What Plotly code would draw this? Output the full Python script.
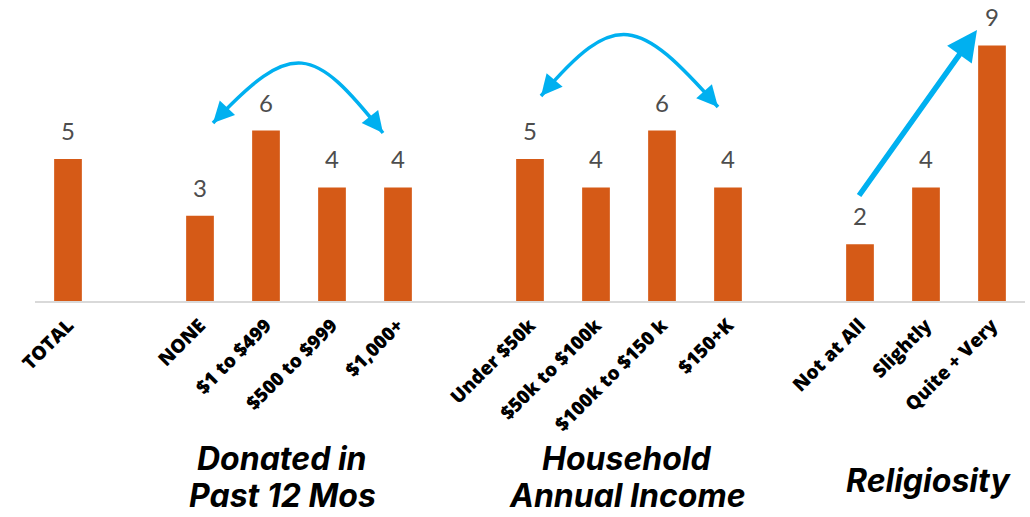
import plotly.graph_objects as go

# ---- data ----
categories = ["TOTAL", "", "NONE", "$1 to $499", "$500 to $999", "$1,000+", " ",
              "Under $50k", "$50k to $100k", "$100k to $150 k", "$150+K", "  ",
              "Not at All", "Slightly", "Quite + Very"]
values = [5, None, 3, 6, 4, 4, None, 5, 4, 6, 4, None, 2, 4, 9]
group_title_lines = [["Donated in", "Past 12 Mos"], ["Household", "Annual Income"], ["Religiosity"]]

BAR = "#D55A17"
ARROW = "#00B0F0"
FONT = "Lato"
TICKFONT = "Open Sans"
TITLEFONT = "Inter"

slots = list(range(len(categories)))
bx = [s for s, v in zip(slots, values) if v is not None]
bv = [v for v in values if v is not None]

fig = go.Figure()
fig.add_trace(go.Bar(x=bx, y=bv, width=0.42, marker=dict(color=BAR, line=dict(width=0)),
                     hoverinfo="skip"))

# value labels
for x, v in zip(bx, bv):
    fig.add_annotation(x=x, y=v, text=str(v), showarrow=False, yanchor="bottom", yshift=12,
                       font=dict(family=FONT, size=24, color="#4d4d4d"))

# ---- pixel helpers for decorations ----
PL, PR, PT, PB, W, H = 35, 5, 17, 216, 1030, 517
YMAX = 10.0
pw = W - PL - PR
ph = H - PT - PB

def dx(px):
    return (px - PL) / pw * len(categories) - 0.5

def dy(py):
    return (H - PB - py) / ph * YMAX

def curve(p0, c1, c2, p3):
    pts = [p0, c1, c2, p3]
    s = ["%s%.4f,%.4f" % (cmd, dx(a), dy(b)) for cmd, (a, b) in zip(["M", "C", " ", " "], pts)]
    return s[0] + " " + s[1] + " " + s[2] + " " + s[3]

arcs = [
    ((213, 123), (293, 38), (313, 45), (383, 133)),
    ((541, 96), (616, 8), (638, 17), (718, 107)),
]
for p0, c1, c2, p3 in arcs:
    fig.add_shape(type="path", path=curve(p0, c1, c2, p3), xref="x", yref="y",
                  line=dict(color=ARROW, width=3.5))
    for tip, ctrl in ((p0, c1), (p3, c2)):
        vx, vy = ctrl[0] - tip[0], ctrl[1] - tip[1]
        n = (vx * vx + vy * vy) ** 0.5
        fig.add_annotation(x=dx(tip[0]), y=dy(tip[1]), ax=vx / n * 12, ay=vy / n * 12,
                           axref="pixel", ayref="pixel", text="", showarrow=True,
                           arrowhead=2, arrowsize=1.2, arrowwidth=3.5, arrowcolor=ARROW,
                           standoff=0)

# straight arrow
fig.add_annotation(x=dx(977), y=dy(30), ax=dx(858), ay=dy(197), axref="x", ayref="y",
                   text="", showarrow=True, arrowhead=2, arrowsize=1.1, arrowwidth=5.5,
                   arrowcolor=ARROW, standoff=0)

# group titles (one annotation per line; y = pixel centre of the line)
title_x = [dx(282), dx(627), dx(928)]
title_line_y = [[458, 496], [458, 496], [480]]
for lines, x, ys in zip(group_title_lines, title_x, title_line_y):
    for t, y in zip(lines, ys):
        fig.add_annotation(x=x, xref="x", y=(H - PB - y) / ph, yref="paper", text=t,
                           showarrow=False, yanchor="middle", xanchor="center",
                           font=dict(family=TITLEFONT, size=32, color="#000000",
                                     weight=700, style="italic"))

fig.update_layout(
    width=W, height=H, margin=dict(l=PL, r=PR, t=PT, b=PB),
    plot_bgcolor="white", paper_bgcolor="white", showlegend=False,
    xaxis=dict(range=[-0.5, len(categories) - 0.5], tickmode="array",
               tickvals=[s for s, c in zip(slots, categories) if c.strip()],
               ticktext=[c for c in categories if c.strip()], tickangle=-45,
               showline=True, linecolor="#D9D9D9", linewidth=1.5, showgrid=False,
               zeroline=False, ticks="", ticklabelstandoff=4,
               tickfont=dict(family=TICKFONT, size=19, color="#000000", weight=800)),
    yaxis=dict(range=[0, YMAX], visible=False, showgrid=False, zeroline=False),
)

fig.write_html("out.html")
